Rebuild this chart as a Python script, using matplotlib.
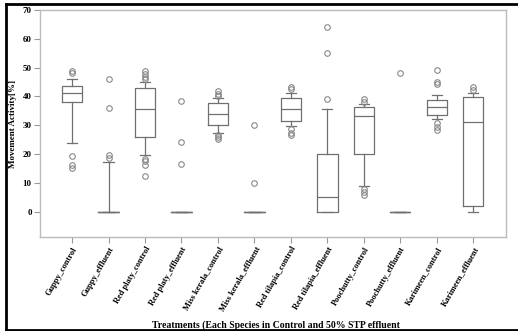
import matplotlib
matplotlib.use('Agg')
import matplotlib.pyplot as plt
from matplotlib.lines import Line2D

# treatment groups
groups = ['Guppy_control', 'Guppy_effluent', 'Red platy_control',
          'Red platy_effluent', 'Miss kerala_control', 'Miss kerala_effluent',
          'Red tilapia_control', 'Red tilapia_effluent', 'Poochutty_control',
          'Poochutty_effluent', 'Karimeen_control', 'Karimeen_effluent']

# box statistics
q1 = [38.2, 0, 25.9, 0, 30.0, 0, 31.5, 0, 20.0, 0, 33.5, 2.1]
med = [41.3, 0, 35.8, 0, 33.9, 0, 35.5, 5.1, 33.3, 0, 36.3, 31.0]
q3 = [43.6, 0, 42.8, 0, 37.6, 0, 39.4, 19.9, 36.5, 0, 38.8, 39.7]
whislo = [24.0, 0, 19.6, 0, 27.2, 0, 29.8, 0, 8.9, 0, 32.1, 0]
whishi = [46.2, 17.4, 45.0, 0, 39.4, 0, 41.1, 35.5, 37.3, 0, 40.4, 41.1]
fliers = [
    [48.8, 48.1, 19.4, 16.2, 15.0],
    [46.1, 36.1, 19.8, 18.5],
    [48.8, 47.8, 46.9, 46.0, 18.4, 17.5, 16.2, 12.4],
    [38.5, 24.2, 16.5],
    [41.9, 41.0, 40.2, 26.6, 25.8, 25.1],
    [30.1, 10.0],
    [43.4, 42.5, 28.6, 27.4, 26.6],
    [64.0, 55.0, 39.2],
    [39.0, 38.2, 8.0, 6.8, 5.8],
    [48.1],
    [49.1, 44.9, 44.3, 30.7, 29.5, 28.4],
    [43.2, 42.3],
]

stats = []
for i in range(len(groups)):
    stats.append({'label': groups[i], 'q1': q1[i], 'med': med[i], 'q3': q3[i],
                  'whislo': whislo[i], 'whishi': whishi[i], 'fliers': fliers[i]})

plt.rcParams['font.family'] = ['Liberation Serif', 'DejaVu Serif']

fig = plt.figure(figsize=(5.18, 3.31), dpi=100)
ax = fig.add_axes([40 / 518, 1 - 237 / 331, 466 / 518, 227 / 331])

line_col = '#707070'
ax.bxp(stats, positions=range(len(groups)), widths=0.56, showfliers=True,
       boxprops=dict(color=line_col, linewidth=0.9),
       whiskerprops=dict(color=line_col, linewidth=0.9),
       capprops=dict(color=line_col, linewidth=0.9),
       medianprops=dict(color=line_col, linewidth=0.9),
       flierprops=dict(marker='o', markerfacecolor='none',
                       markeredgecolor='#888888', markersize=4,
                       markeredgewidth=0.8))

ax.set_xlim(-0.88, 11.9)
ax.set_ylim(-8.8, 70)
ax.set_yticks(range(0, 71, 10))
ax.set_xticks(range(len(groups)))
ax.set_xticklabels(groups, rotation=60, ha='right', va='top',
                   rotation_mode='anchor', fontsize=6, fontweight='bold')
for lab in ax.get_yticklabels():
    lab.set_fontsize(6.5)
    lab.set_fontweight('bold')

for s in ax.spines.values():
    s.set_color('#bbbbbb')
    s.set_linewidth(1.0)
ax.tick_params(axis='both', color='#999999', length=4, width=0.8, pad=2)

ax.set_ylabel('Movement Activity[%]', fontsize=6.5, fontweight='bold',
              labelpad=4)
fig.text(0.533, 1 - 325 / 331, 'Treatments (Each Species in Control and 50% STP effluent',
         ha='center', va='center', fontsize=7, fontweight='bold')

# black frame of the original image
fig.add_artist(Line2D([6 / 518, 1], [1 - 4 / 331, 1 - 4 / 331], color='black',
                      linewidth=2, transform=fig.transFigure))
fig.add_artist(Line2D([6 / 518, 1], [1 - 330 / 331, 1 - 330 / 331], color='black',
                      linewidth=2, transform=fig.transFigure))
fig.add_artist(Line2D([6 / 518, 6 / 518], [1 - 4 / 331, 1 - 330 / 331], color='black',
                      linewidth=2, transform=fig.transFigure))

plt.savefig('out.png', dpi=100)
